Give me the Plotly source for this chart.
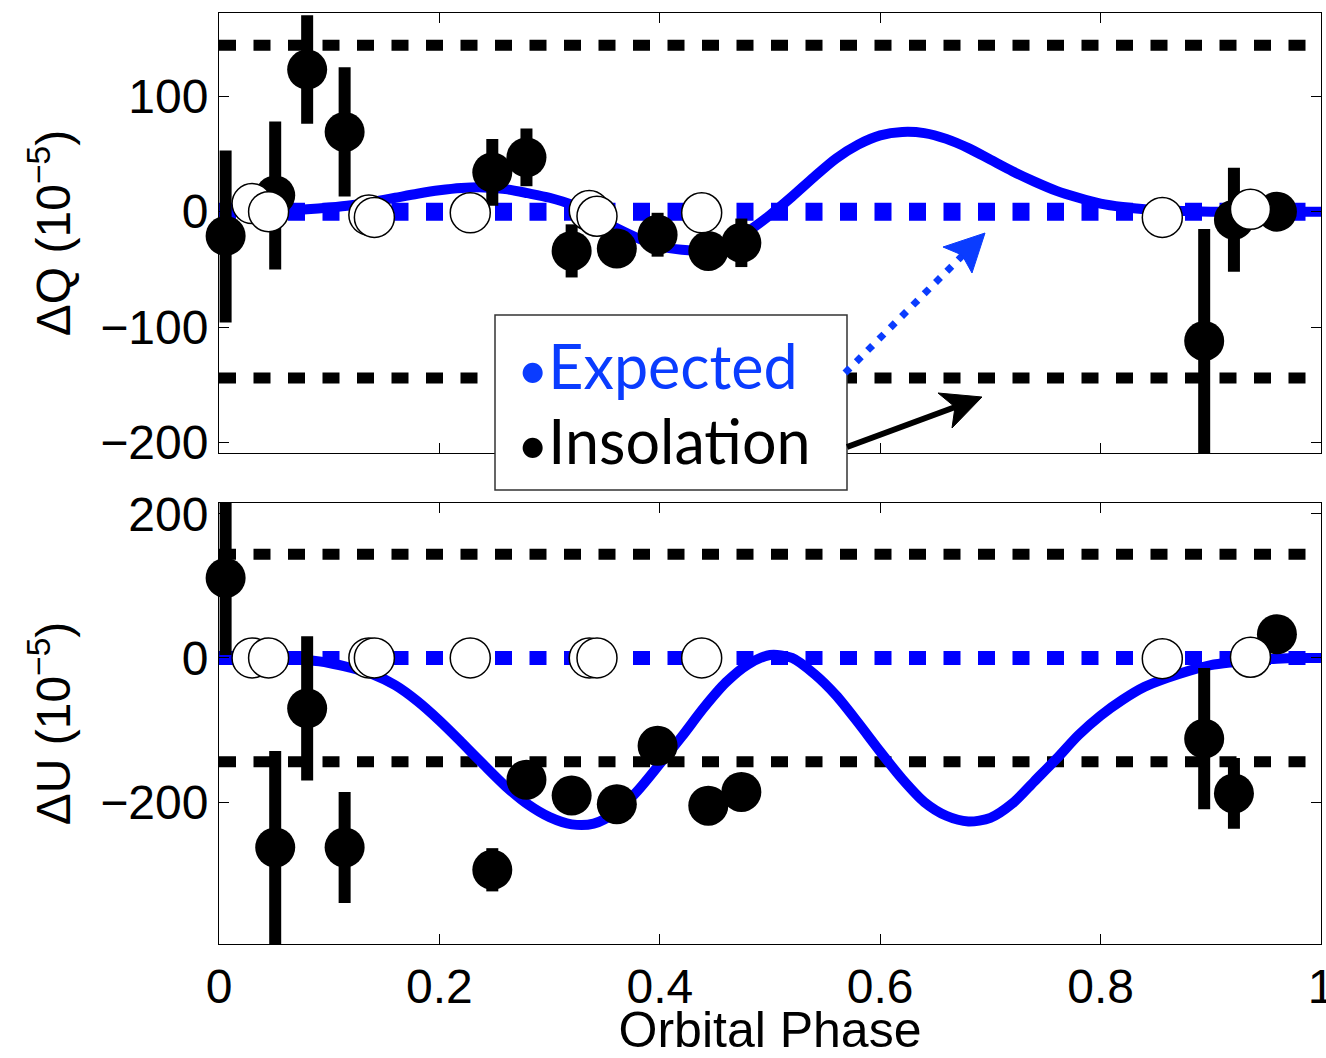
import plotly.graph_objects as go

# ---------------- data ----------------
phase_ins = [0.006, 0.051, 0.080, 0.114, 0.248, 0.279, 0.320, 0.361, 0.398, 0.444, 0.474, 0.894, 0.921, 0.960]
dq_ins = [-21, 14, 123, 69, 34, 47, -34, -32, -20, -34, -27, -112, -7, 0]
dq_err_plus = [74, 64, 47, 56, 29, 25, 23, 10, 19, 10, 21, 97, 45, 10]
dq_err_minus = [75, 64, 47, 56, 29, 25, 23, 10, 19, 10, 21, 97, 45, 10]
du_ins = [111, -263, -70, -263, -294, -169, -191, -203, -122, -205, -186, -112, -188, 33]
du_err_plus = [104, 134, 100, 77, 30, 15, 15, 15, 15, 15, 15, 98, 49, 15]
du_err_minus = [107, 134, 100, 77, 30, 15, 15, 15, 15, 15, 15, 98, 49, 15]

phase_exp = [0.030, 0.045, 0.136, 0.141, 0.228, 0.336, 0.343, 0.438, 0.856, 0.936]
dq_exp = [7, 0, -3, -5, -1, 1, -4, -1, -5, 2]
du_exp = [0, 0, 0, 0, 0, 0, 0, 0, -1, 1]

phase_curve = [0.00, 0.02, 0.04, 0.06, 0.08, 0.10, 0.12, 0.14, 0.16, 0.18,
               0.20, 0.22, 0.24, 0.26, 0.28, 0.30, 0.32, 0.34, 0.36, 0.38,
               0.40, 0.42, 0.44, 0.46, 0.48, 0.50, 0.52, 0.54, 0.56, 0.58,
               0.60, 0.62, 0.64, 0.66, 0.68, 0.70, 0.72, 0.74, 0.76, 0.78,
               0.80, 0.82, 0.84, 0.86, 0.88, 0.90, 0.92, 0.94, 0.96, 0.98, 1.00]
dq_curve = [0, 0, 0.5, 1, 2, 3.5, 5.5, 8.5, 12, 15.5,
            18.5, 20.5, 21, 19.5, 16, 12, 6, -4, -14, -23,
            -30, -33, -33, -28, -17, -3, 13, 30, 46, 58,
            66, 69, 68, 63, 55, 45, 35, 26, 18, 12,
            7, 4, 2, 1, 0.5, 0, 0, 0, 0, 0, 0]
du_curve = [0, 0, 0, -1, -3, -7, -14, -23, -38, -60,
            -87, -117, -148, -178, -203, -221, -231, -230, -214, -184,
            -147, -109, -69, -34, -9, 4, 0, -22, -52, -90,
            -130, -168, -200, -219, -227, -222, -202, -171, -140, -107,
            -80, -58, -40, -28, -18, -10, -6, -3, -1, 0, 0]

limit = 144
x_ticks = [0, 0.2, 0.4, 0.6, 0.8, 1]
x_ticktext = ["0", "0.2", "0.4", "0.6", "0.8", "1"]
q_ticks = [-200, -100, 0, 100]
u_ticks = [-200, 0, 200]

W, H = 1326, 1058
BLUE = "#0000ff"
ABLUE = "#0a3cff"
TICKFONT = dict(family="Liberation Sans, Arial, sans-serif", size=48, color="black")
TITLEFONT = dict(family="Liberation Sans, Arial, sans-serif", size=50, color="black")

fig = go.Figure()

def add_panel(xa, ya, curve, ins, ep, em, exp, zero_w):
    for v in (limit, -limit):
        fig.add_trace(go.Scatter(x=[0, 1], y=[v, v], mode="lines", xaxis=xa, yaxis=ya,
                                 line=dict(color="black", width=11, dash="17px,17.5px"),
                                 hoverinfo="skip"))
    fig.add_trace(go.Scatter(x=[0, 1], y=[0, 0], mode="lines", xaxis=xa, yaxis=ya,
                             line=dict(color=BLUE, width=zero_w, dash="17px,17.5px"),
                             hoverinfo="skip"))
    fig.add_trace(go.Scatter(x=phase_curve, y=curve, mode="lines", xaxis=xa, yaxis=ya,
                             line=dict(color=BLUE, width=10, shape="spline", smoothing=0.8)))
    fig.add_trace(go.Scatter(x=phase_ins, y=ins, mode="markers", xaxis=xa, yaxis=ya,
                             marker=dict(color="black", size=40),
                             error_y=dict(type="data", array=ep, arrayminus=em, symmetric=False,
                                          color="black", thickness=12, width=0),
                             cliponaxis=False))
    fig.add_trace(go.Scatter(x=phase_exp, y=exp, mode="markers", xaxis=xa, yaxis=ya,
                             marker=dict(color="white", size=40, line=dict(color="black", width=1.5)),
                             cliponaxis=False))

add_panel("x", "y", dq_curve, dq_ins, dq_err_plus, dq_err_minus, dq_exp, 18)
add_panel("x2", "y2", du_curve, du_ins, du_err_plus, du_err_minus, du_exp, 14)

xdom = [219 / W, 1321 / W]
axis_common = dict(showline=True, linecolor="black", linewidth=1, mirror="ticks",
                   ticks="inside", ticklen=10, tickwidth=1, tickcolor="black",
                   showgrid=False, zeroline=False, tickfont=TICKFONT, automargin=False,
                   ticklabeloverflow="allow")

fig.update_layout(
    template="none",
    width=W, height=H, margin=dict(l=0, r=0, t=0, b=0, pad=0),
    paper_bgcolor="white", plot_bgcolor="white", showlegend=False,
    xaxis=dict(domain=xdom, range=[0, 1], anchor="y", tickvals=x_ticks,
               showticklabels=False, **axis_common),
    yaxis=dict(domain=[1 - 453 / H, 1 - 13 / H], range=[-209, 172], anchor="x",
               tickvals=q_ticks,
               title=dict(text="ΔQ (10<sup>−5</sup>)", font=TICKFONT, standoff=14),
               **axis_common),
    xaxis2=dict(domain=xdom, range=[0, 1], anchor="y2", tickvals=x_ticks, ticktext=x_ticktext,
                title=dict(text="Orbital Phase", font=TITLEFONT, standoff=0),
                **axis_common),
    yaxis2=dict(domain=[1 - 944 / H, 1 - 503 / H], range=[-397, 215], anchor="x2",
                tickvals=u_ticks,
                title=dict(text="ΔU (10<sup>−5</sup>)", font=TICKFONT, standoff=14),
                **axis_common),
)

def px(x):
    return x / W

def py(y):
    return 1 - y / H

def path(points):
    return "M " + " L ".join(f"{px(a):.5f},{py(b):.5f}" for a, b in points) + " Z"

# legend box
fig.add_shape(type="rect", xref="paper", yref="paper", x0=px(495), x1=px(847), y0=py(490), y1=py(315),
              fillcolor="white", line=dict(color="#333333", width=1.5), layer="above")
# dotted blue arrow
fig.add_shape(type="line", xref="paper", yref="paper", x0=px(845), y0=py(373), x1=px(963), y1=py(255),
              line=dict(color=ABLUE, width=7, dash="7px,9px"), layer="above")
fig.add_shape(type="path", xref="paper", yref="paper",
              path=path([(985, 233), (943, 247), (962, 255), (972, 273)]),
              fillcolor=ABLUE, line=dict(color=ABLUE, width=1), layer="above")
# black arrow
fig.add_shape(type="line", xref="paper", yref="paper", x0=px(847), y0=py(447), x1=px(958), y1=py(406),
              line=dict(color="black", width=6), layer="above")
fig.add_shape(type="path", xref="paper", yref="paper",
              path=path([(982, 397), (938, 393), (955, 407), (952, 428)]),
              fillcolor="black", line=dict(color="black", width=1), layer="above")

LEGFONT = "Lato, Noto Sans, sans-serif"
fig.add_annotation(xref="paper", yref="paper", x=px(515), y=py(366), xanchor="left", yanchor="middle",
                   text="<span style='font-size:54px'>•</span>Expected", showarrow=False,
                   font=dict(family=LEGFONT, size=61, color=ABLUE))
fig.add_annotation(xref="paper", yref="paper", x=px(515), y=py(440), xanchor="left", yanchor="middle",
                   text="<span style='font-size:54px'>•</span>Insolation", showarrow=False,
                   font=dict(family=LEGFONT, size=61, color="black"))

fig.write_html("out.html", config={"displayModeBar": False},
               post_script="document.body.style.margin='0px';document.body.style.overflow='hidden';")
